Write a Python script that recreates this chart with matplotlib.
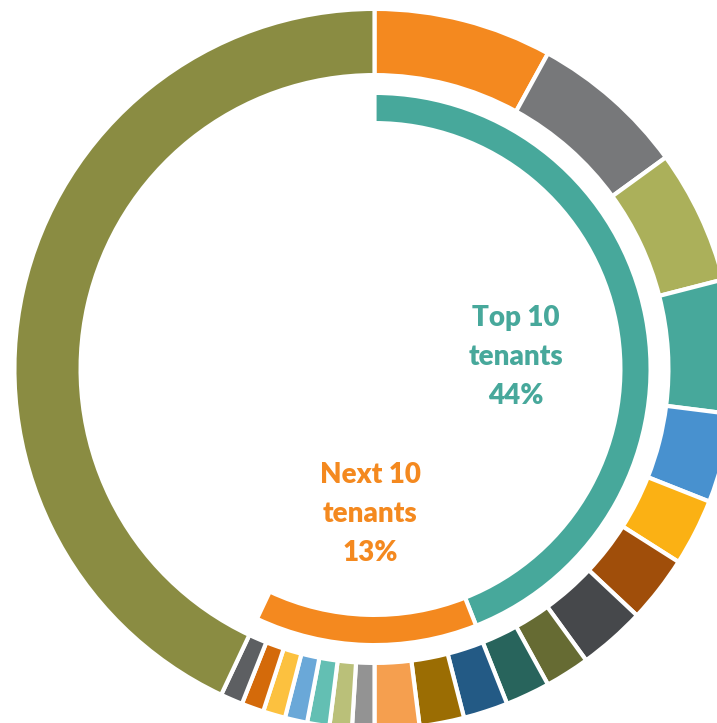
import matplotlib
matplotlib.use("Agg")
import matplotlib.pyplot as plt

# Share of rent by tenant: top 10, next 10, and everyone else
tenant_shares = [8.0, 7.0, 6.0, 6.0, 4.0, 3.0, 3.0, 3.0, 2.0, 2.0,
                 2.0, 2.0, 2.0, 1.0, 1.0, 1.0, 1.0, 1.0, 1.0, 1.0,
                 43.0]
tenant_colors = ["#F4891F", "#77787A", "#ABB05A", "#47A89B", "#4891CF",
                 "#FBB114", "#A04E0A", "#46484B", "#666B33", "#28645C",
                 "#235A85", "#9B6D03", "#F59F4F", "#939393", "#BAC079",
                 "#63BFB3", "#6AA8D8", "#FCC13F", "#D46A0A", "#5D5F62",
                 "#8A8C42"]

group_labels = ["Top 10\ntenants\n44%", "Next 10\ntenants\n13%"]
group_shares = [44.0, 13.0, 43.0]
group_colors = ["#47A89B", "#F4891F", "none"]

W, H = 717, 723
fig = plt.figure(figsize=(W / 100, H / 100), dpi=100)
ax = fig.add_axes([0, 0, 1, 1])

cx, cy = 374.5, H - 369
edge_pt = 3.0
edge_px = edge_pt * 100 / 72

# Outer ring: one wedge per tenant (white strokes widen the ring so the
# visible band keeps its full thickness)
ax.pie(tenant_shares, colors=tenant_colors, radius=358 + edge_px / 2,
       center=(cx, cy), startangle=90, counterclock=False,
       wedgeprops=dict(width=62 + edge_px, edgecolor="white", linewidth=edge_pt))

# Inner ring: top-10 and next-10 groups, remainder left blank
inner, _ = ax.pie(group_shares, colors=group_colors, radius=274 + edge_px / 2,
                  center=(cx, cy), startangle=90, counterclock=False,
                  wedgeprops=dict(width=26 + edge_px, edgecolor="white",
                                  linewidth=edge_pt))
inner[2].set_edgecolor("none")

label_pos = [(516, 318), (370, 475)]
for text, color, (x, y) in zip(group_labels, group_colors, label_pos):
    for i, line in enumerate(text.split("\n")):
        ax.text(x, H - (y + 39 * i), line, ha="center", va="center",
                fontsize=20, fontweight="heavy", family="Lato", color=color)

ax.set_xlim(0, W)
ax.set_ylim(0, H)
ax.set_aspect("equal")
ax.axis("off")
fig.savefig("out.png", dpi=100, facecolor="white")
